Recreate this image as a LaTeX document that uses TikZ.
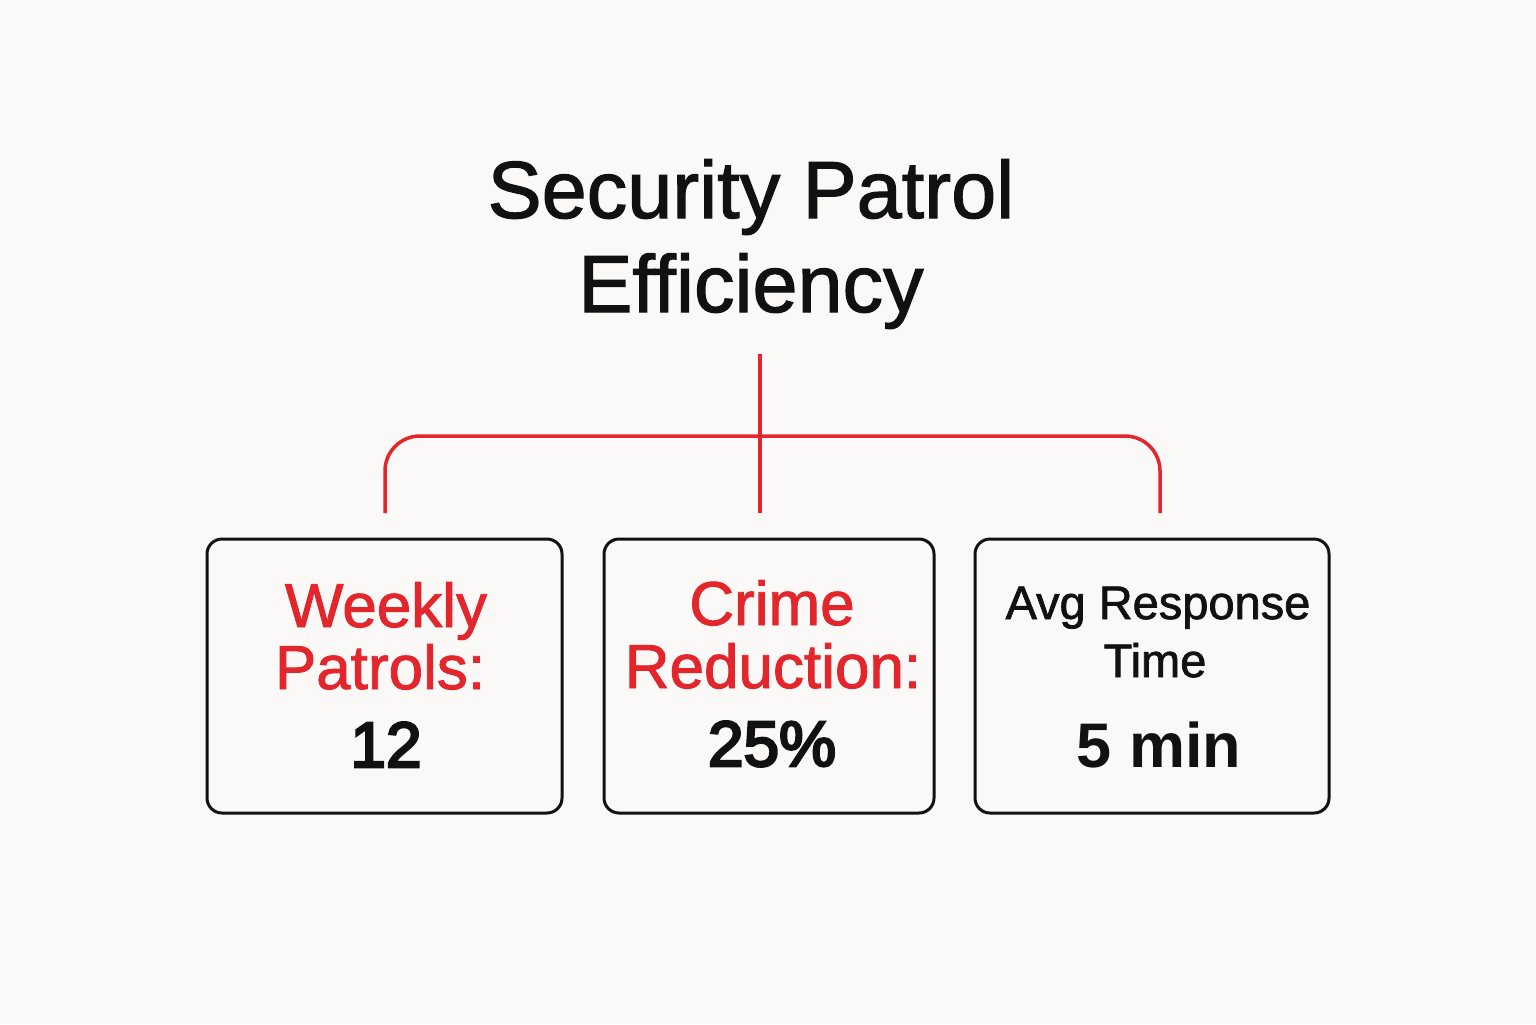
\documentclass[tikz,border=0pt]{standalone}
\usepackage{fontspec}
\setmainfont{Liberation Sans}
\newfontfamily\medfont[FakeBold=1.5]{Liberation Sans}
\newfontfamily\semifont[FakeBold=4]{Liberation Sans}
\definecolor{bg}{HTML}{FAF9F7}
\definecolor{accent}{HTML}{E2262B}
\definecolor{ink}{HTML}{111111}
\begin{document}
\begin{tikzpicture}[x=0.5pt,y=-0.5pt,
  box/.style={draw=ink,line width=1.5pt,rounded corners=7.5pt,minimum height=137pt,inner sep=0pt},
  conn/.style={draw=accent,line width=1.75pt},
  lbl/.style={anchor=base,inner sep=0pt,text=accent,font=\fontsize{31}{36}\medfont},
  num/.style={anchor=base,inner sep=0pt,text=ink,font=\fontsize{32}{36}\semifont},
  ttl/.style={anchor=base,inner sep=0pt,text=ink,font=\fontsize{40.5}{46}\medfont}]
\fill[bg] (0,0) rectangle (1536,1024);
\useasboundingbox (0,0) rectangle (1536,1024);
% title
\node[ttl] (t1) at (751,218) {Security Patrol};
\node[ttl] (t2) at (751,312) {Efficiency};
% boxes
\node[box,minimum width=177.5pt] (b1) at (384.5,676) {};
\node[box,minimum width=165pt] (b2) at (769,676) {};
\node[box,minimum width=177pt] (b3) at (1152,676) {};
% box texts
\node[lbl] (w1) at (386,627) {Weekly};
\node[lbl] (w2) at (380,689) {Patrols:};
\node[num] (w3) at (386,767) {12};
\node[lbl] (c1) at (772,625) {Crime};
\node[lbl] (c2) at (773,688) {Reduction:};
\node[num] (c3) at (772,766) {25\%};
\node[anchor=base,inner sep=0pt,text=ink,font=\fontsize{23.5}{28}\medfont] (a1) at (1158,619) {Avg Response};
\node[anchor=base,inner sep=0pt,text=ink,font=\fontsize{23.5}{28}\medfont] (a2) at (1155,677) {Time};
\node[anchor=base,inner sep=0pt,text=ink,font=\fontsize{31.5}{36}\selectfont\bfseries] (a3) at (1159,767) {5 min};
% connectors
\coordinate (top) at (760,354);
\coordinate (mid) at (760,513);
\coordinate (lft) at (385,513);
\coordinate (rgt) at (1160,513);
\draw[conn] (top) -- (mid);
\draw[conn,rounded corners=17.5pt] (lft) -- (385,436) -- (1160,436) -- (rgt);
\end{tikzpicture}
\end{document}
